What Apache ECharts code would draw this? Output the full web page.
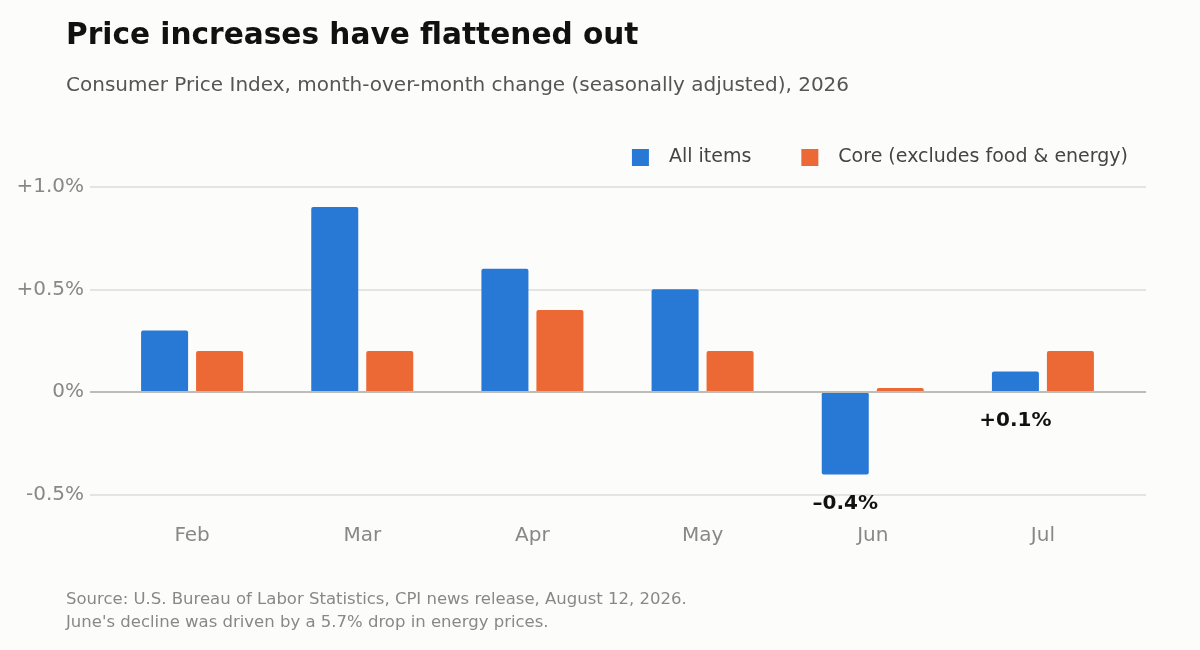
<!DOCTYPE html>
<html>
<head>
<meta charset="utf-8">
<script src="https://cdn.jsdelivr.net/npm/echarts@6/dist/echarts.min.js"></script>
<style>
  html, body { margin:0; padding:0; background:#fcfcfa; }
  #chart { width:1200px; height:650px; }
</style>
</head>
<body>
<div id="chart"></div>
<script>
// ---- data ----
var months   = ["Feb", "Mar", "Apr", "May", "Jun", "Jul"];
var allItems = [0.3, 0.9, 0.6, 0.5, -0.4, 0.1];
var core     = [0.2, 0.2, 0.4, 0.2, 0.02, 0.2];
var callouts = ["", "", "", "", "\u20130.4%", "+0.1%"];   // labels on "All items" bars
var yTicks   = { min: -0.5, max: 1.0, interval: 0.5 };

var BLUE = "#2878d6", ORANGE = "#ec6835", FONT = "'DejaVu Sans', sans-serif";

function pct(v){
  if (Math.abs(v) < 1e-9) return "0%";
  return (v > 0 ? "+" : "-") + Math.abs(v).toFixed(1) + "%";
}

var chart = echarts.init(document.getElementById("chart"), null, { renderer: "canvas" });

chart.setOption({
  backgroundColor: "#fcfcfa",
  textStyle: { fontFamily: FONT },
  animation: false,
  title: [
    { text: "Price increases have flattened out", left: 66, top: 21, padding: 0,
      textStyle: { fontSize: 29.6, fontWeight: "bold", color: "#111", fontFamily: FONT } },
    { text: "Consumer Price Index, month-over-month change (seasonally adjusted), 2026", left: 66, top: 76, padding: 0,
      textStyle: { fontSize: 20, fontWeight: "normal", color: "#555", fontFamily: FONT } },
    { text: "Source: U.S. Bureau of Labor Statistics, CPI news release, August 12, 2026.\nJune's decline was driven by a 5.7% drop in energy prices.",
      left: 66, top: 588, padding: 0,
      textStyle: { fontSize: 16.5, fontWeight: "normal", color: "#888", lineHeight: 23, fontFamily: FONT } }
  ],
  legend: {
    right: 72, top: 148, padding: 0,
    icon: "rect", itemWidth: 17, itemHeight: 17, itemGap: 50,
    textStyle: { fontSize: 19, color: "#444", padding: [0, 0, 0, 15], fontFamily: FONT },
    data: ["All items", "Core (excludes food & energy)"]
  },
  // grid 0 carries the y labels and gridlines, grid 1 carries the bars
  grid: [
    { left: 90, right: 54, top: 186.5, bottom: 155 },
    { left: 107, right: 72, top: 186.5, bottom: 155 }
  ],
  xAxis: [
    { gridIndex: 0, type: "category", data: months, show: false },
    { gridIndex: 1, type: "category", data: months,
      axisLine: { show: false }, axisTick: { show: false },
      axisLabel: { margin: 31, fontSize: 20, color: "#888", fontFamily: FONT } }
  ],
  yAxis: [
    { gridIndex: 0, type: "value", min: yTicks.min, max: yTicks.max, interval: yTicks.interval,
      axisLine: { show: false }, axisTick: { show: false },
      axisLabel: { margin: 6, fontSize: 20, color: "#888", fontFamily: FONT, formatter: pct },
      splitLine: { lineStyle: { color: "#dcdcda", width: 1.5 } } },
    { gridIndex: 1, type: "value", min: yTicks.min, max: yTicks.max, interval: yTicks.interval,
      show: false, splitLine: { show: false } }
  ],
  series: [
    { type: "line", xAxisIndex: 0, yAxisIndex: 0, data: [], silent: true,
      markLine: { silent: true, symbol: "none", label: { show: false },
        lineStyle: { color: "#bdbdb6", width: 2, type: "solid" },
        data: [{ yAxis: 0 }] } },
    { name: "All items", type: "bar", xAxisIndex: 1, yAxisIndex: 1,
      barWidth: 47, barGap: "17%",
      itemStyle: { color: BLUE, borderRadius: 2 },
      data: allItems.map(function(v, i){
        var d = { value: v };
        if (callouts[i]) d.label = { show: true, position: "bottom", distance: 19,
          formatter: callouts[i], fontSize: 20, fontWeight: "bold", color: "#111", fontFamily: FONT };
        return d;
      }) },
    { name: "Core (excludes food & energy)", type: "bar", xAxisIndex: 1, yAxisIndex: 1,
      barWidth: 47, barGap: "17%",
      itemStyle: { color: ORANGE, borderRadius: 2 },
      data: core }
  ]
});
</script>
</body>
</html>
